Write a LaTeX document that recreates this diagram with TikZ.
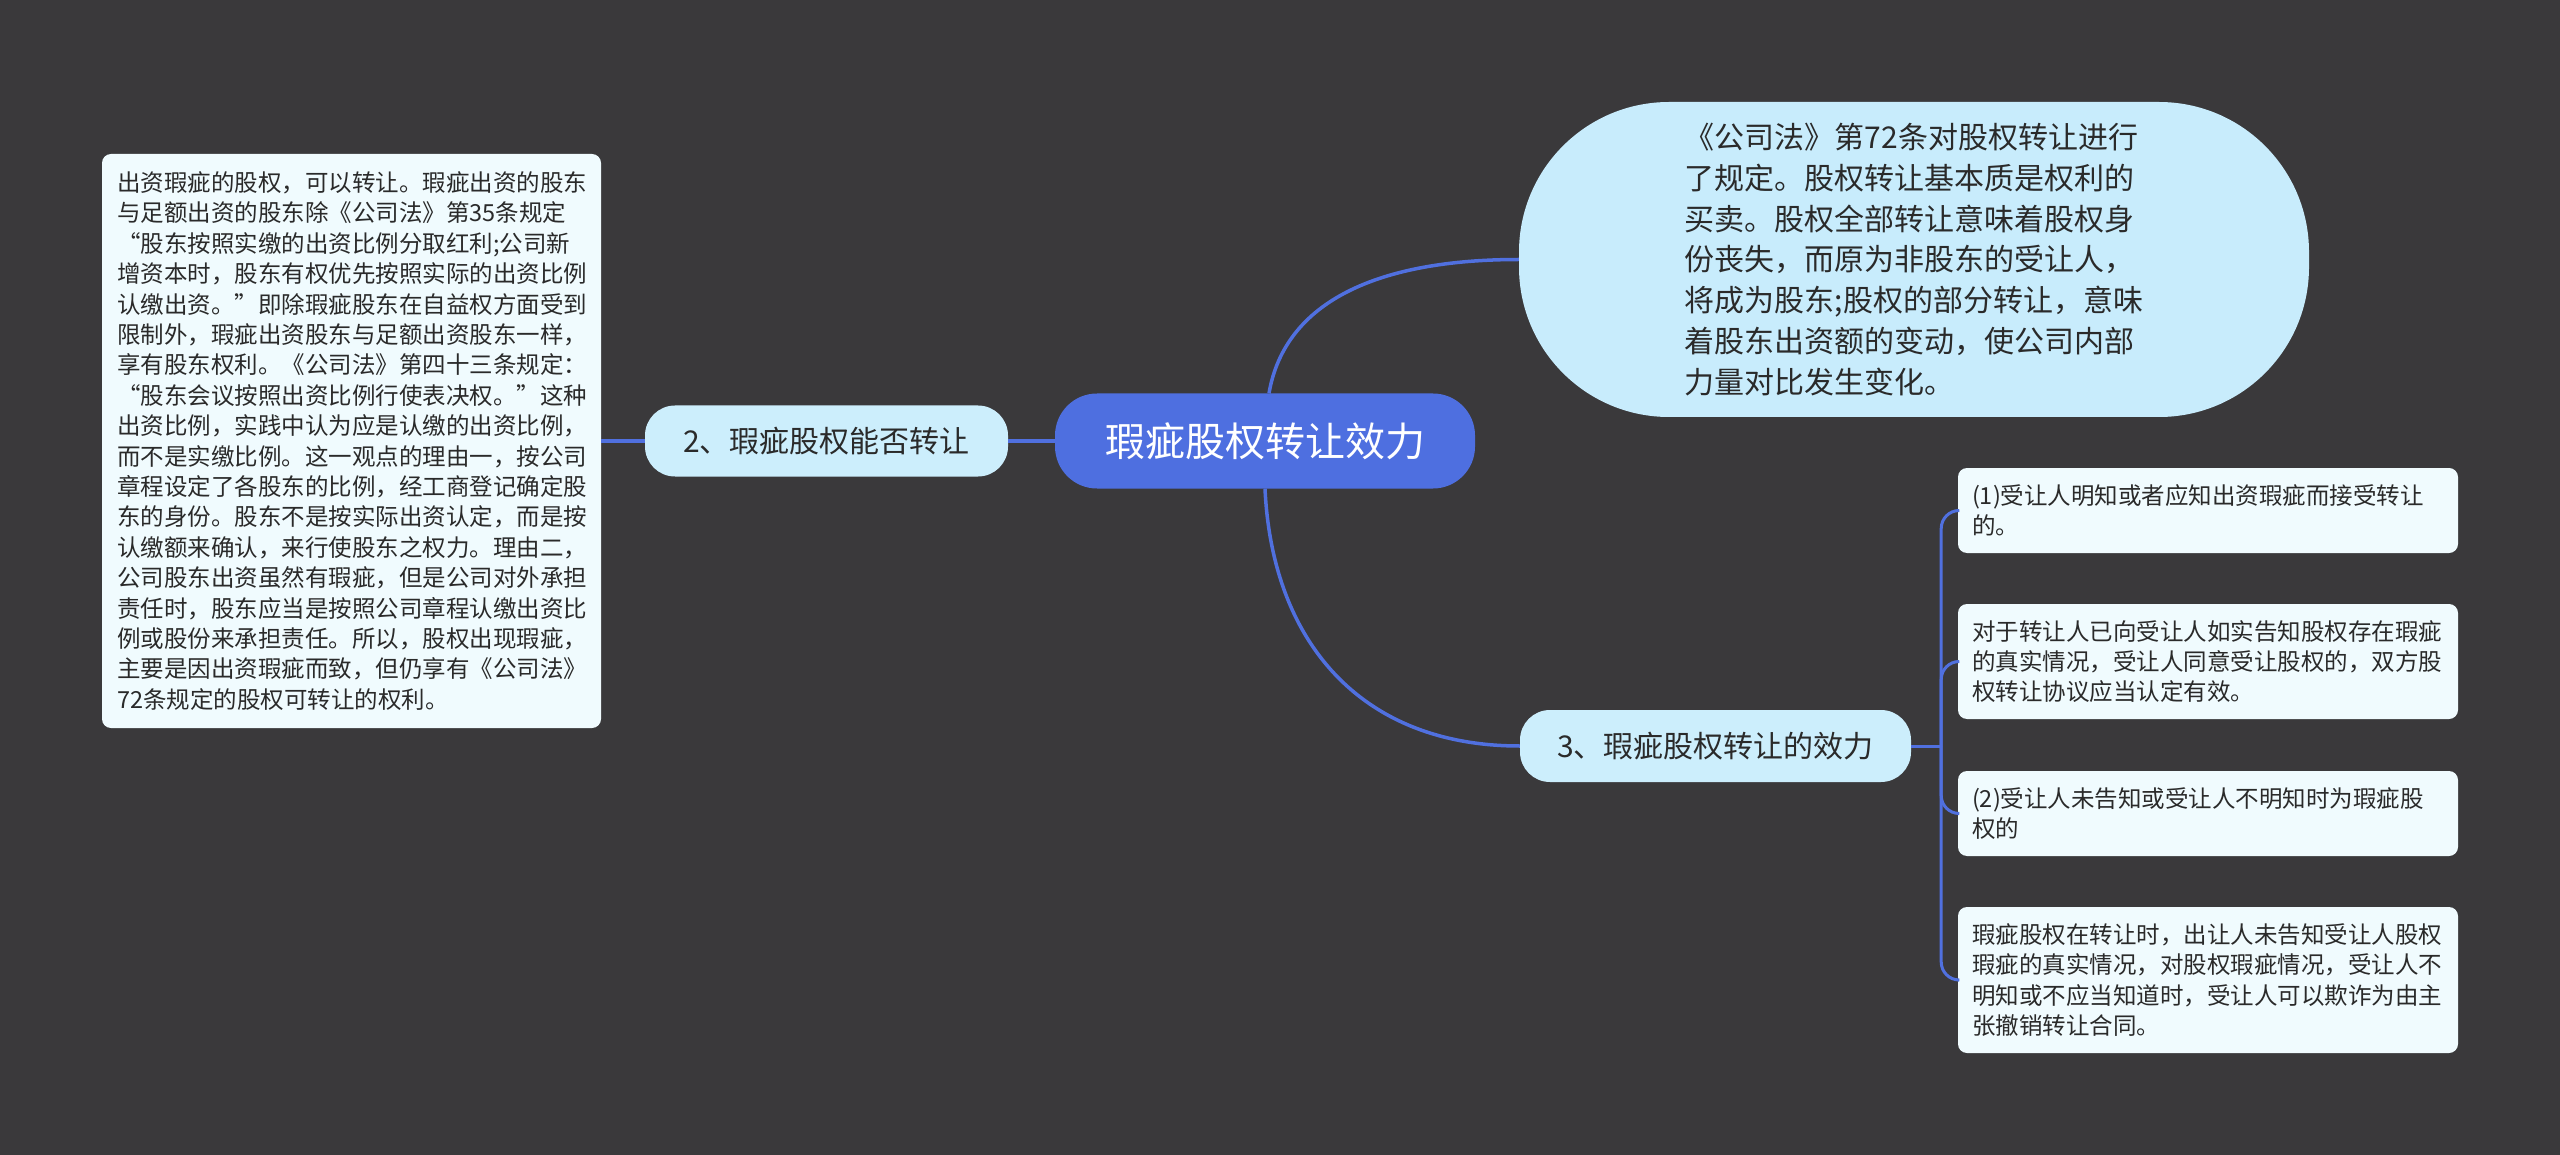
\documentclass[tikz,border=0pt]{standalone}
\usepackage{fontspec}
\setmainfont{Noto Sans CJK SC}
\usetikzlibrary{calc}
\definecolor{bg}{HTML}{3A393B}
\definecolor{mainblue}{HTML}{4E6FE0}
\definecolor{linkblue}{HTML}{5070DF}
\definecolor{lightcyan}{HTML}{CCEEFC}
\definecolor{bubblecyan}{HTML}{C8ECFC}
\definecolor{paper}{HTML}{F0FBFE}
\definecolor{ink}{HTML}{2A2A2A}
\tikzset{
  rootbox/.style={fill=mainblue, text=white, rounded corners=42pt, minimum width=420pt, minimum height=95pt, inner sep=0pt, font=\fontsize{40}{48}\selectfont},
  subbox/.style={fill=lightcyan, text=ink, rounded corners=30pt, inner sep=0pt, font=\fontsize{30}{36}\selectfont},
  bubblebox/.style={fill=bubblecyan, text=ink, rounded corners=150pt, minimum width=790pt, minimum height=315pt, inner sep=0pt, align=left, font=\fontsize{30}{40.7}\selectfont},
  leafbox/.style={fill=paper, text=ink, rounded corners=9pt, inner xsep=14pt, inner ysep=0pt, align=left, font=\fontsize{23.5}{30.4}\selectfont},
  link/.style={draw=linkblue, line width=3.5pt},
  twig/.style={draw=linkblue, line width=3pt, rounded corners=18pt}
}
\begin{document}
\begin{tikzpicture}[x=1pt,y=-1pt]
\fill[bg] (0,0) rectangle (2560,1155);
\useasboundingbox (0,0) rectangle (2560,1155);

\node[rootbox] (c) at (1265,441) {瑕疵股权转让效力};
\node[subbox, minimum width=363pt, minimum height=71pt] (n2) at (826.5,441) {2、瑕疵股权能否转让};
\node[subbox, minimum width=391pt, minimum height=72pt] (n3) at (1715.5,746) {3、瑕疵股权转让的效力};

\node[bubblebox] (bub) at (1914,259.5) {《公司法》第72条对股权转让进行\\了规定。股权转让基本质是权利的\\买卖。股权全部转让意味着股权身\\份丧失，而原为非股东的受让人，\\将成为股东;股权的部分转让，意味\\着股东出资额的变动，使公司内部\\力量对比发生变化。};

\node[leafbox, inner xsep=15pt, text width=469pt, minimum height=574pt] (lb) at (351.5,441) {出资瑕疵的股权，可以转让。瑕疵出资的股东\\与足额出资的股东除《公司法》第35条规定\\“股东按照实缴的出资比例分取红利;公司新\\增资本时，股东有权优先按照实际的出资比例\\认缴出资。”即除瑕疵股东在自益权方面受到\\限制外，瑕疵出资股东与足额出资股东一样，\\享有股东权利。《公司法》第四十三条规定：\\“股东会议按照出资比例行使表决权。”这种\\出资比例，实践中认为应是认缴的出资比例，\\而不是实缴比例。这一观点的理由一，按公司\\章程设定了各股东的比例，经工商登记确定股\\东的身份。股东不是按实际出资认定，而是按\\认缴额来确认，来行使股东之权力。理由二，\\公司股东出资虽然有瑕疵，但是公司对外承担\\责任时，股东应当是按照公司章程认缴出资比\\例或股份来承担责任。所以，股权出现瑕疵，\\主要是因出资瑕疵而致，但仍享有《公司法》\\72条规定的股权可转让的权利。};

\node[leafbox, text width=472pt, minimum height=85pt] (b1) at (2208,510.5) {(1)受让人明知或者应知出资瑕疵而接受转让\\的。};
\node[leafbox, text width=472pt, minimum height=115pt] (b2) at (2208,661.5) {对于转让人已向受让人如实告知股权存在瑕疵\\的真实情况，受让人同意受让股权的，双方股\\权转让协议应当认定有效。};
\node[leafbox, text width=472pt, minimum height=85pt] (b3) at (2208,813.5) {(2)受让人未告知或受让人不明知时为瑕疵股\\权的};
\node[leafbox, text width=472pt, minimum height=146pt] (b4) at (2208,980) {瑕疵股权在转让时，出让人未告知受让人股权\\瑕疵的真实情况，对股权瑕疵情况，受让人不\\明知或不应当知道时，受让人可以欺诈为由主\\张撤销转让合同。};

% connectors
\draw[link] (c.west) -- (n2.east);
\draw[link] (n2.west) -- (lb.east);
\draw[link] ($(c.north)+(4,0)$) .. controls ($(c.north)+(20,-93)$) and ($(bub.west)+(-139,0)$) .. (bub.west);
\draw[link] (c.south) .. controls ($(c.south)+(7,152)$) and ($(n3.west)+(-160,0)$) .. (n3.west);
\coordinate (J) at ($(n3.east)+(30,0)$);
\draw[link, line width=3pt] (n3.east) -- (J);
\draw[twig] (J) |- (b1.west);
\draw[twig] (J) |- (b2.west);
\draw[twig] (J) |- (b3.west);
\draw[twig] (J) |- (b4.west);
\end{tikzpicture}
\end{document}
